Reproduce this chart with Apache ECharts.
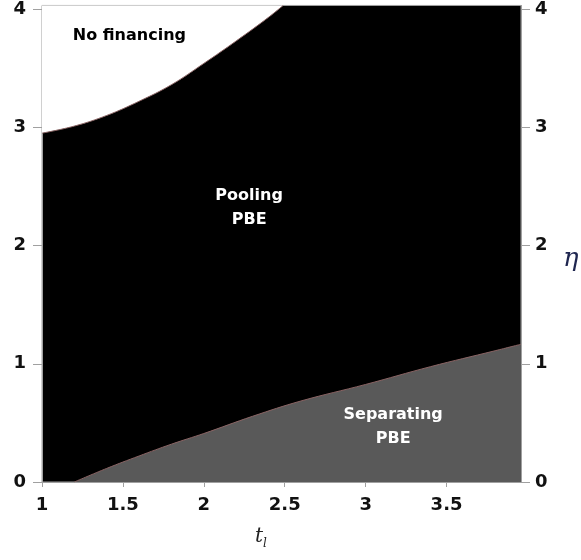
<!DOCTYPE html>
<html>
<head>
<meta charset="utf-8">
<script src="https://cdn.jsdelivr.net/npm/echarts@6/dist/echarts.min.js"></script>
<style>html,body{margin:0;padding:0;background:#fff;}#c{width:581px;height:560px;}</style>
</head>
<body>
<div id="c"></div>
<script>
// Upper boundary (No financing / Pooling)
const upperT   = [1.0, 1.2, 1.4, 1.6, 1.8, 2.0, 2.2, 2.4, 2.49];
const upperEta = [2.95, 3.01, 3.10, 3.22, 3.36, 3.54, 3.73, 3.93, 4.03];
// Lower boundary (Pooling / Separating)
const lowerT   = [1.2, 1.4, 1.6, 1.8, 2.0, 2.3, 2.6, 3.0, 3.4, 3.8, 3.96];
const lowerEta = [0, 0.115, 0.22, 0.32, 0.41, 0.555, 0.685, 0.825, 0.975, 1.11, 1.165];
// Region labels and their anchor (t, eta)
const regionNames = ['No financing', 'Pooling\nPBE', 'Separating\nPBE'];
const regionT     = [1.54, 2.28, 3.17];
const regionEta   = [3.77, 2.32, 0.47];
const regionColor = ['#000', '#fff', '#fff'];
// Axis ranges
const xMin = 1, xMax = 3.96, xStep = 0.5;
const yMin = 0, yMax = 4.03, yStep = 1;

const chart = echarts.init(document.getElementById('c'));
const labelFont = {color: '#111', fontFamily: 'DejaVu Sans', fontWeight: 'bold', fontSize: 18};
const axisGray = '#a0a0a0';
function yAx(pos, margin) {
  return {
    type: 'value', position: pos, min: yMin, max: yMax, interval: yStep,
    axisLine: {show: true, lineStyle: {color: axisGray}},
    axisTick: {show: true, length: 9, lineStyle: {color: axisGray}},
    axisLabel: Object.assign({margin: margin, showMaxLabel: false,
      formatter: v => (Math.abs(v - Math.round(v)) < 1e-9 ? String(Math.round(v)) : '')}, labelFont),
    splitLine: {show: false}
  };
}
chart.setOption({
  animation: false,
  grid: {left: 42, right: 60, top: 4, bottom: 78, show: true, backgroundColor: '#000', borderColor: axisGray, borderWidth: 1},
  xAxis: {
    type: 'value', min: xMin, max: xMax, interval: xStep,
    axisLine: {show: true, lineStyle: {color: axisGray}},
    axisTick: {show: true, length: 5, lineStyle: {color: axisGray}},
    axisLabel: Object.assign({margin: 14, showMaxLabel: false}, labelFont),
    splitLine: {show: false}
  },
  yAxis: [yAx('left', 16), yAx('right', 14)],
  series: [
    {
      type: 'line', smooth: 0.4, symbol: 'none',
      data: lowerT.map((t, i) => [t, lowerEta[i]]),
      lineStyle: {color: '#8a6464', width: 1},
      areaStyle: {color: '#595959', opacity: 1, origin: 'start'}
    },
    {
      type: 'line', smooth: 0.4, symbol: 'none',
      data: upperT.map((t, i) => [t, upperEta[i]]),
      lineStyle: {color: '#8a6464', width: 1},
      areaStyle: {color: '#ffffff', opacity: 1, origin: 'end'}
    }
  ]
});
const g = [
  {type: 'text', left: 563, top: 246, style: {text: 'η', font: 'italic 26px "DejaVu Serif"', fill: '#1f2650'}},
  {type: 'text', left: 255, top: 527, style: {text: 't', font: 'italic 20px "DejaVu Serif"', fill: '#222'}},
  {type: 'text', left: 263, top: 538, style: {text: 'l', font: 'italic 12px "DejaVu Serif"', fill: '#222'}}
];
regionNames.forEach((n, i) => {
  const p = chart.convertToPixel({gridIndex: 0}, [regionT[i], regionEta[i]]);
  g.push({type: 'text', x: p[0], y: p[1], z: 100,
    style: {text: n, fill: regionColor[i], font: 'bold 16px "DejaVu Sans"', lineHeight: 24,
      align: 'center', verticalAlign: 'middle'}});
});
chart.setOption({graphic: g});
</script>
</body>
</html>
